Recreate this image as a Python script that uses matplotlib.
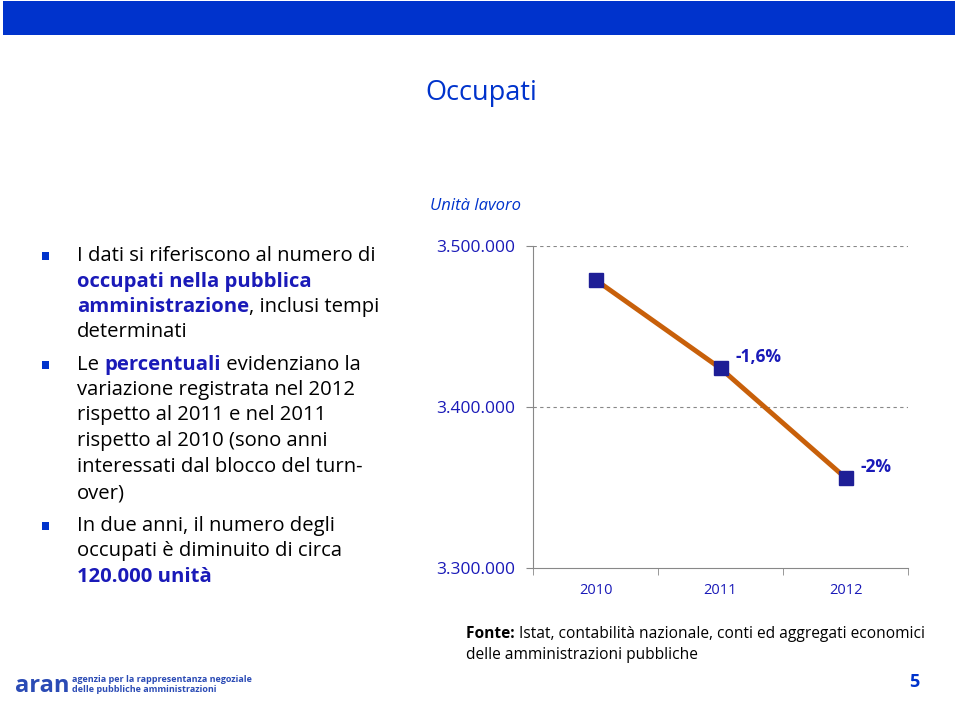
import matplotlib.pyplot as plt
from matplotlib.patches import Rectangle
import numpy as np

years = ["2010", "2011", "2012"]
occupati = [3479000, 3424000, 3356000]
variazioni = ["", "-1,6%", "-2%"]
yticks = [3300000, 3400000, 3500000]
ytick_labels = ["3.300.000", "3.400.000", "3.500.000"]

BLUE = "#0033CC"
TEXTBLUE = "#1A1AB8"
plt.rcParams["font.family"] = ["Open Sans", "DejaVu Sans"]

fig = plt.figure(figsize=(9.6, 7.01), dpi=100)
fig.patch.set_facecolor("white")

# top banner
fig.add_artist(Rectangle((3 / 960, 1 - 35 / 701), 952 / 960, 34 / 701,
                         transform=fig.transFigure, color=BLUE, lw=0))

fig.text(481 / 960, 1 - 93 / 701, "Occupati", color=BLUE, fontsize=19.5,
         ha="center", va="center")
fig.text(476 / 960, 1 - 206 / 701, "Unità lavoro", color=BLUE, fontsize=12,
         style="italic", ha="center", va="center")

# bullet text
lines = [
    (256, [("I dati si riferiscono al numero di", "black", "normal")], True),
    (282, [("occupati nella pubblica", TEXTBLUE, "bold")], False),
    (307, [("amministrazione", TEXTBLUE, "bold"), (", inclusi tempi", "black", "normal")], False),
    (332, [("determinati", "black", "normal")], False),
    (365, [("Le ", "black", "normal"), ("percentuali", TEXTBLUE, "bold"),
           (" evidenziano la", "black", "normal")], True),
    (390, [("variazione registrata nel 2012", "black", "normal")], False),
    (415, [("rispetto al 2011 e nel 2011", "black", "normal")], False),
    (441, [("rispetto al 2010 (sono anni", "black", "normal")], False),
    (467, [("interessati dal blocco del turn-", "black", "normal")], False),
    (493, [("over)", "black", "normal")], False),
    (526, [("In due anni, il numero degli", "black", "normal")], True),
    (551, [("occupati è diminuito di circa", "black", "normal")], False),
    (577, [("120.000 unità", TEXTBLUE, "bold")], False),
]
fig.canvas.draw()
renderer = fig.canvas.get_renderer()


def chain(x0, ypix, parts, size):
    x = x0 / 960
    for txt, col, wt in parts:
        t = fig.text(x, 1 - ypix / 701, txt, color=col, fontweight=wt,
                     fontsize=size, ha="left", va="center")
        x += t.get_window_extent(renderer).width / 960


for ypix, parts, bullet in lines:
    chain(77, ypix, parts, 14.6)
    if bullet:
        fig.add_artist(Rectangle((42 / 960, 1 - (ypix + 4) / 701), 7 / 960, 8 / 701,
                                 transform=fig.transFigure, color=BLUE, lw=0))

# chart
ax = fig.add_axes([533 / 960, 1 - 568 / 701, 375 / 960, 322 / 701])
x = np.arange(len(years))
ax.plot(x, occupati, color="#C8600A", lw=3.5, zorder=3)
ax.plot(x, occupati, ls="none", marker="s", ms=10, color="#1E1E96",
        mec="#1E1E96", zorder=4)
for xi, v, lab in zip(x, occupati, variazioni):
    if lab:
        ax.annotate(lab, (xi, v), xytext=(11, 8), textcoords="offset points",
                    color=TEXTBLUE, fontweight="bold", fontsize=12.5,
                    ha="left", va="center")

ax.set_xlim(-0.5, 2.5)
ax.set_ylim(3300000, 3500000)
ax.set_yticks(yticks)
ax.set_yticklabels(ytick_labels, color=TEXTBLUE, fontsize=12.5)
ax.set_xticks(x)
ax.set_xticklabels(years, color=TEXTBLUE, fontsize=10.5)
ax.set_xticks([-0.5, 0.5, 1.5, 2.5], minor=True)
ax.tick_params(axis="x", which="major", length=0, pad=11)
ax.tick_params(axis="x", which="minor", length=5, color="#888888", direction="out")
ax.tick_params(axis="y", length=5, color="#888888", pad=8)
for yv in yticks[1:]:
    ax.axhline(yv, color="#888888", lw=0.8, ls=(0, (3, 3)), zorder=1)
ax.spines["top"].set_visible(False)
ax.spines["right"].set_visible(False)
ax.spines["left"].set_color("#888888")
ax.spines["bottom"].set_color("#888888")

# source
chain(466, 634, [("Fonte: ", "black", "bold"),
                 ("Istat, contabilità nazionale, conti ed aggregati economici", "black", "normal")], 11.2)
chain(466, 655, [("delle amministrazioni pubbliche", "black", "normal")], 11.2)

# footer
fig.text(15 / 960, 1 - 686 / 701, "aran", color="#2B4BB5", fontsize=17,
         fontweight="bold", ha="left", va="center")
fig.text(72 / 960, 1 - 680 / 701, "agenzia per la rappresentanza negoziale",
         color="#2B4BB5", fontsize=6.5, fontweight="bold", ha="left", va="center")
fig.text(72 / 960, 1 - 690 / 701, "delle pubbliche amministrazioni",
         color="#2B4BB5", fontsize=6.5, fontweight="bold", ha="left", va="center")
fig.text(914 / 960, 1 - 682 / 701, "5", color=BLUE, fontsize=13,
         fontweight="bold", ha="center", va="center")

fig.savefig("out.png", dpi=100)
